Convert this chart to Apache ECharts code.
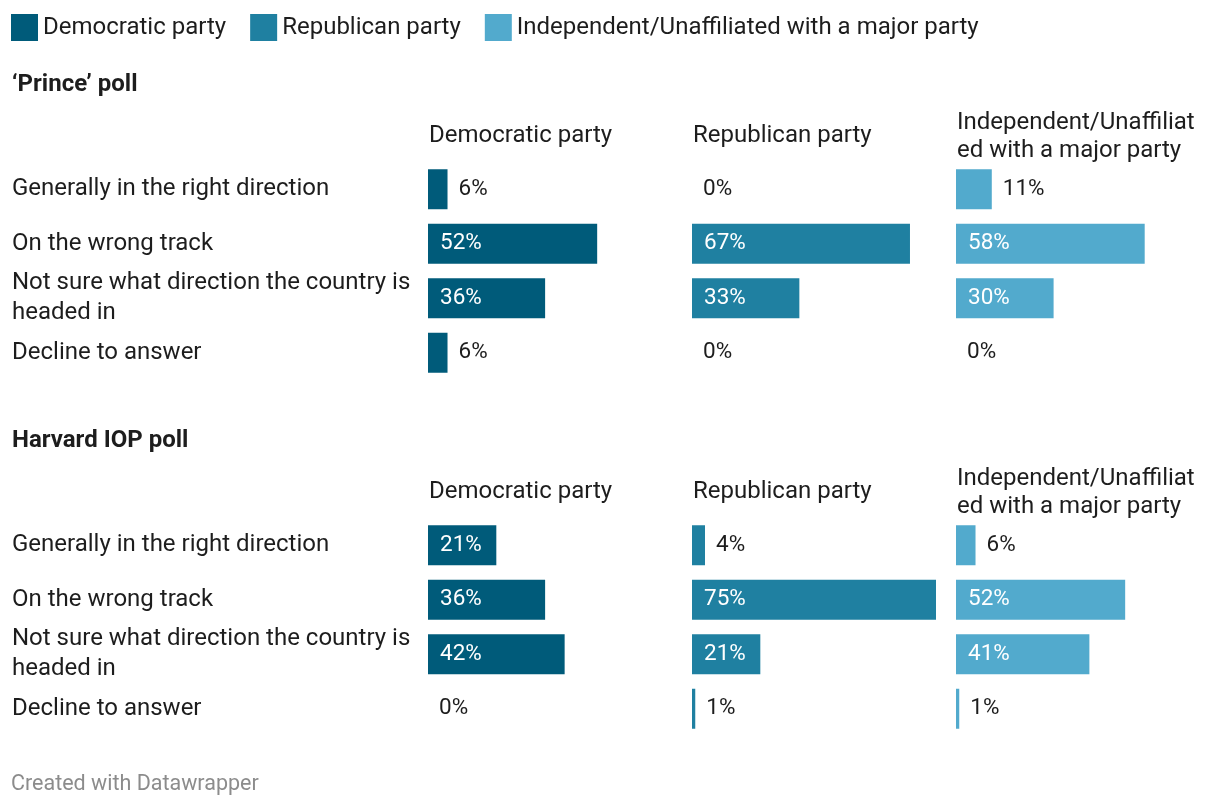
<!DOCTYPE html>
<html>
<head>
<meta charset="utf-8">
<script src="https://cdn.jsdelivr.net/npm/echarts@6/dist/echarts.min.js"></script>
<style>
html,body{margin:0;padding:0;background:#fff;}
#chart{width:1220px;height:806px;}
</style>
</head>
<body>
<div id="chart"></div>
<script>
const categories = ['Generally in the right direction', 'On the wrong track', 'Not sure what direction the country is headed in', 'Decline to answer'];
const parties = ['Democratic party', 'Republican party', 'Independent/Unaffiliated with a major party'];
const panelTitles = ['\u2018Prince\u2019 poll', 'Harvard IOP poll'];
const princeDem = [6, 52, 36, 6];
const princeRep = [0, 67, 33, 0];
const princeInd = [11, 58, 30, 0];
const harvardDem = [21, 36, 42, 0];
const harvardRep = [4, 75, 21, 1];
const harvardInd = [6, 52, 41, 1];
const panels = [[princeDem, princeRep, princeInd], [harvardDem, harvardRep, harvardInd]];

const colors = ['#005b7a', '#1f80a1', '#52aacd'];
const textColor = '#1d1d1d';
const FONT = 'Roboto';
const colLeft = [428, 692, 956];
const colWidth = 244;
const panelOffset = 356;

const grids = [], xAxes = [], yAxes = [], series = [], titles = [];
panels.forEach((panel, p) => {
  const dy = p * panelOffset;
  titles.push({
    text: panelTitles[p], left: 12, top: 73 + dy, padding: 0,
    textStyle: {fontFamily: FONT, fontSize: 24, fontWeight: 'bold', color: textColor, lineHeight: 24}
  });
  panel.forEach((vals, c) => {
    const idx = grids.length;
    grids.push({left: colLeft[c], top: 162 + dy, width: colWidth, height: 218});
    titles.push({
      text: parties[c], left: colLeft[c] + 1, top: (c === 2 ? 109 : 122) + dy, padding: 0,
      textStyle: {fontFamily: FONT, fontSize: 24, fontWeight: 'normal', color: textColor, lineHeight: 28,
        width: colWidth, overflow: 'breakAll'}
    });
    xAxes.push({type: 'value', gridIndex: idx, min: 0, max: 75, show: false});
    yAxes.push({
      type: 'category', gridIndex: idx, data: categories, inverse: true,
      axisLine: {show: false}, axisTick: {show: false}, splitLine: {show: false},
      axisLabel: {
        show: c === 0, align: 'left', margin: colLeft[0] - 12,
        fontFamily: FONT, fontSize: 24, color: textColor, lineHeight: 30,
        width: 410, overflow: 'break'
      }
    });
    series.push({
      type: 'bar', name: parties[c], xAxisIndex: idx, yAxisIndex: idx,
      barWidth: 40, itemStyle: {color: colors[c]},
      animation: false,
      data: vals.map(v => ({
        value: v,
        label: v >= 15
          ? {show: true, position: 'insideLeft', distance: 12, color: '#ffffff', fontFamily: FONT, fontSize: 22.5, formatter: '{c}%'}
          : {show: true, position: 'right', distance: 11, color: textColor, fontFamily: FONT, fontSize: 22.5, formatter: '{c}%'}
      }))
    });
  });
});
titles.push({
  text: 'Created with Datawrapper', left: 11, top: 773, padding: 0,
  textStyle: {fontFamily: FONT, fontSize: 21.5, fontWeight: 'normal', color: '#8c8c8c', lineHeight: 24}
});

const chart = echarts.init(document.getElementById('chart'), null, {renderer: 'canvas'});
chart.setOption({
  animation: false,
  title: titles,
  legend: {
    left: 11, top: 14, itemWidth: 27, itemHeight: 27, itemGap: 24, icon: 'rect', padding: 0,
    data: parties,
    selectedMode: false,
    textStyle: {fontFamily: FONT, fontSize: 24, color: textColor}
  },
  grid: grids,
  xAxis: xAxes,
  yAxis: yAxes,
  series: series
});
</script>
</body>
</html>
